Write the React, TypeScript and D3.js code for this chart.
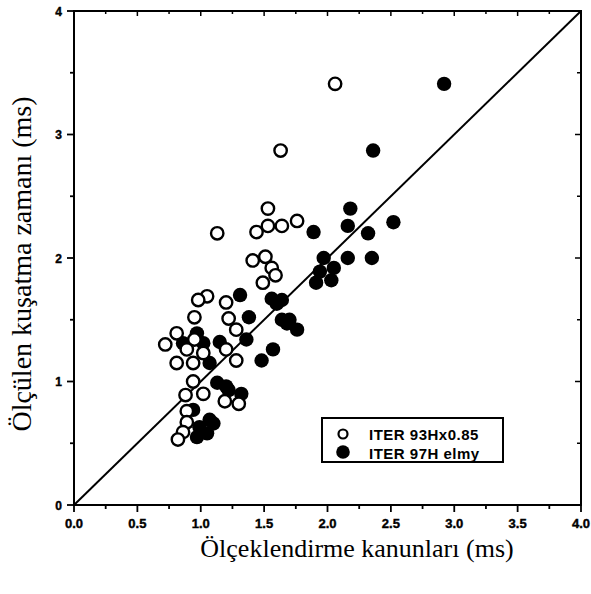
import React from "react";
import * as d3 from "d3";

const openX = [2.06, 1.63, 1.13, 1.53, 1.44, 1.53, 1.64, 1.76, 1.41, 1.51, 1.56, 1.59, 1.49, 1.05, 0.98, 1.2, 0.95, 1.22, 1.28, 0.81, 0.95, 0.72, 0.89, 1.02, 1.2, 0.81, 0.94, 1.28, 0.94, 0.88, 1.02, 1.19, 1.3, 0.89, 0.89, 0.86, 0.82];
const openY = [3.41, 2.87, 2.2, 2.4, 2.21, 2.26, 2.26, 2.3, 1.98, 2.01, 1.92, 1.86, 1.8, 1.69, 1.66, 1.64, 1.52, 1.51, 1.42, 1.39, 1.34, 1.3, 1.26, 1.23, 1.26, 1.15, 1.15, 1.17, 1.0, 0.89, 0.9, 0.84, 0.82, 0.76, 0.67, 0.59, 0.53];

const filledX = [2.92, 2.36, 2.18, 2.16, 2.32, 2.52, 1.89, 2.16, 2.35, 1.97, 2.05, 1.94, 2.03, 1.91, 1.56, 1.64, 1.31, 1.6, 1.38, 1.64, 1.7, 1.68, 1.76, 1.36, 1.15, 0.97, 1.57, 1.48, 1.07, 1.13, 1.22, 1.32, 1.2, 0.94, 1.07, 0.99, 1.1, 1.05, 0.97, 0.86, 1.02];
const filledY = [3.41, 2.87, 2.4, 2.26, 2.2, 2.29, 2.21, 2.0, 2.0, 2.0, 1.92, 1.89, 1.82, 1.8, 1.67, 1.66, 1.7, 1.63, 1.52, 1.5, 1.5, 1.47, 1.42, 1.34, 1.32, 1.39, 1.26, 1.17, 1.15, 0.99, 0.93, 0.9, 0.96, 0.77, 0.69, 0.63, 0.66, 0.58, 0.55, 1.31, 1.31];

const xTicks = [0, 0.5, 1.0, 1.5, 2.0, 2.5, 3.0, 3.5, 4.0];
const yTicks = [0, 1, 2, 3, 4];
const legendLabels = ["ITER 93Hx0.85", "ITER 97H elmy"];
const xTitle = "Ölçeklendirme kanunları (ms)";
const yTitle = "Ölçülen kuşatma zamanı (ms)";

const L = 74, R = 581, T = 11, B = 505;

export default function App() {
  const x = d3.scaleLinear().domain([0, 4]).range([L, R]);
  const y = d3.scaleLinear().domain([0, 4]).range([B, T]);
  const xMinor = d3.range(0, 4.001, 0.25);
  const yMinor = d3.range(0, 4.001, 0.5);
  const line = d3.line<[number, number]>().x((d) => x(d[0])).y((d) => y(d[1]));
  const tickFont = "'Liberation Sans', Arial, sans-serif";
  const serif = "'Liberation Serif', 'Times New Roman', serif";
  const r = 6.2;

  const filled = filledX.map((v, i) => [v, filledY[i]] as [number, number]);
  const open = openX.map((v, i) => [v, openY[i]] as [number, number]);

  return (
    <div style={{ position: "absolute", left: 0, top: 0 }}>
      <svg width={591} height={594} style={{ display: "block", background: "#fff" }}>
        <rect x={L} y={T} width={R - L} height={B - T} fill="none" stroke="#000" strokeWidth={2} />
        {xMinor.map((v, i) => {
          const major = i % 2 === 0;
          return (
            <g key={"bx" + i}>
              <line x1={x(v)} x2={x(v)} y1={B} y2={B + (major ? 7 : 4)} stroke="#000" strokeWidth={1.8} />
              <line x1={x(v)} x2={x(v)} y1={T} y2={T + (major ? 5 : 3)} stroke="#000" strokeWidth={1.5} />
            </g>
          );
        })}
        {yMinor.map((v, i) => {
          const major = i % 2 === 0;
          return (
            <g key={"ly" + i}>
              <line x1={L} x2={L - (major ? 7 : 4)} y1={y(v)} y2={y(v)} stroke="#000" strokeWidth={1.8} />
              <line x1={R} x2={R - (major ? 6 : 4)} y1={y(v)} y2={y(v)} stroke="#000" strokeWidth={1.5} />
            </g>
          );
        })}
        {xTicks.map((v, i) => (
          <text key={"xt" + v} x={i === xTicks.length - 1 ? 590 : x(v)} y={528} textAnchor={i === xTicks.length - 1 ? "end" : "middle"} fontFamily={tickFont} fontWeight="bold" fontSize={13} stroke="#000" strokeWidth={0.4}>
            {v.toFixed(1)}
          </text>
        ))}
        {yTicks.map((v) => (
          <text key={"yt" + v} x={L - 12} y={y(v) + 4.5} textAnchor="end" fontFamily={tickFont} fontWeight="bold" fontSize={12} stroke="#000" strokeWidth={0.4}>
            {v}
          </text>
        ))}
        <path d={line([[0, 0], [4, 4]]) || ""} stroke="#000" strokeWidth={2} fill="none" />
        {filled.map((d, i) => (
          <circle key={"f" + i} cx={x(d[0])} cy={y(d[1])} r={r + 1} fill="#000" />
        ))}
        {open.map((d, i) => (
          <circle key={"o" + i} cx={x(d[0])} cy={y(d[1])} r={r} fill="#fff" stroke="#000" strokeWidth={2.4} />
        ))}
        <rect x={322} y={418} width={181} height={44} fill="#fff" stroke="#000" strokeWidth={2} />
        <circle cx={343} cy={434} r={4.5} fill="#fff" stroke="#000" strokeWidth={2.2} />
        <circle cx={343} cy={452} r={6.8} fill="#000" />
        <text x={369} y={440} fontFamily={tickFont} fontWeight="bold" fontSize={15} letterSpacing={0.5}>{legendLabels[0]}</text>
        <text x={369} y={458.5} fontFamily={tickFont} fontWeight="bold" fontSize={15} letterSpacing={0.5}>{legendLabels[1]}</text>
        <text x={357} y={557} textAnchor="middle" fontFamily={serif} fontSize={26}>{xTitle}</text>
        <text transform={`translate(31,264) rotate(-90)`} textAnchor="middle" fontFamily={serif} fontSize={28}>{yTitle}</text>
      </svg>
    </div>
  );
}
